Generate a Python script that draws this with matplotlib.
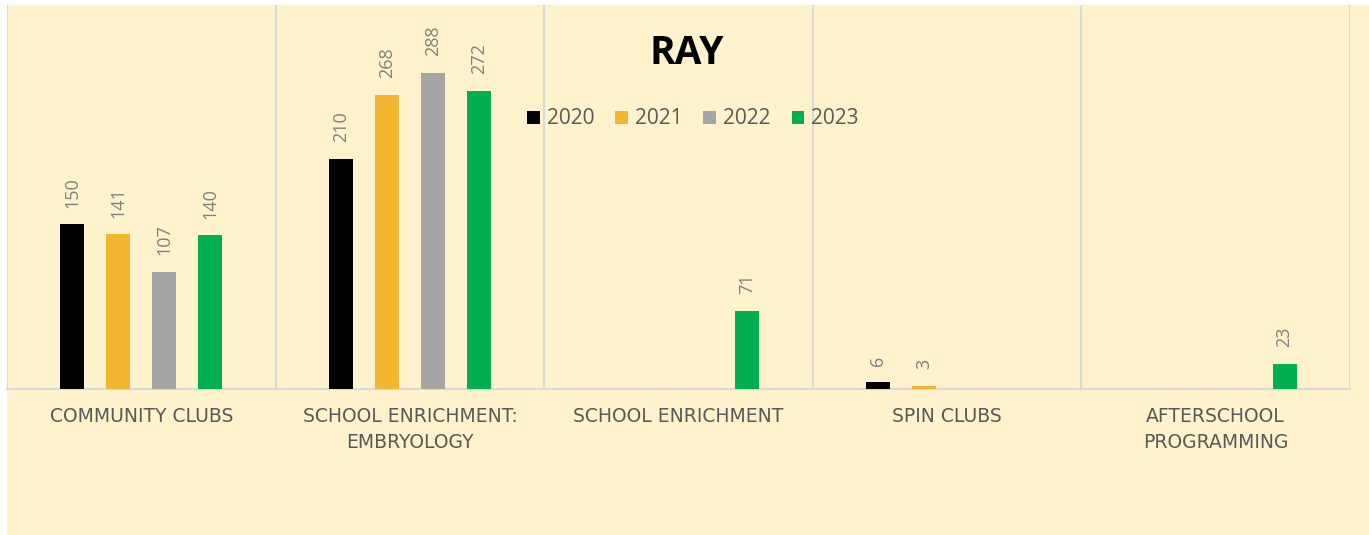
#!/usr/bin/env python

import numpy as np
import matplotlib.pyplot as plt
from matplotlib.patches import Rectangle, Patch

plt.rcParams['font.family'] = ['Open Sans', 'DejaVu Sans']

categories = ['COMMUNITY CLUBS', 'SCHOOL ENRICHMENT:\nEMBRYOLOGY',
              'SCHOOL ENRICHMENT', 'SPIN CLUBS', 'AFTERSCHOOL\nPROGRAMMING']
years = ['2020', '2021', '2022', '2023']
v2020 = [150, 210, 0, 6, 0]
v2021 = [141, 268, 0, 3, 0]
v2022 = [107, 288, 0, 0, 0]
v2023 = [140, 272, 71, 0, 23]
colors = ['#000000', '#F2B630', '#A5A5A5', '#00B050']

series = [v2020, v2021, v2022, v2023]

fig = plt.figure(figsize=(13.69, 5.35), dpi=100)
fig.patch.set_facecolor('white')
fig.patches.append(Rectangle((7 / 1369, 0), 1 - 7 / 1369, 1 - 5 / 535,
                             transform=fig.transFigure, facecolor='#FFF2CC',
                             edgecolor='none', zorder=-10))

ax = fig.add_axes([7 / 1369, 1 - 389 / 535, 1343 / 1369, 384 / 535])
ax.set_facecolor('none')

x = np.arange(len(categories))
step = 0.171
width = 0.089
for i, vals in enumerate(series):
    pos = x + (i - 1.5) * step
    ax.bar(pos, vals, width, color=colors[i], zorder=3)
    for p, v in zip(pos, vals):
        if v > 0:
            ax.annotate(str(v), (p, v), xytext=(0, 12), textcoords='offset points',
                        rotation=90, ha='center', va='bottom', fontsize=13,
                        color='#808080')

ax.set_xlim(-0.5, len(categories) - 0.5)
ax.set_ylim(0, 350)
ax.set_yticks([])
ax.set_xticks(x)
ax.set_xticklabels(categories, fontsize=13.5, color='#595959', linespacing=1.45,
                   family='DejaVu Sans')
ax.tick_params(axis='x', length=0, pad=13)

for b in np.arange(-0.5, len(categories), 1.0):
    ax.axvline(b, color='#D9D9D9', lw=1.5, zorder=1)
for s in ['top', 'left', 'right']:
    ax.spines[s].set_visible(False)
ax.spines['bottom'].set_color('#D9D9D9')
ax.spines['bottom'].set_linewidth(1.5)

fig.text(687 / 1369, 1 - 53 / 535, 'RAY', ha='center', va='center',
         fontsize=28, fontweight='bold', color='black')

handles = [Patch(facecolor=c, edgecolor='none') for c in colors]
fig.legend(handles, years, loc='center', bbox_to_anchor=(693 / 1369, 1 - 119 / 535),
           ncol=4, frameon=False, fontsize=15, labelcolor='#595959',
           handlelength=0.6, handleheight=0.6, handletextpad=0.35,
           columnspacing=1.0)

fig.savefig('out.png', dpi=100, facecolor=fig.get_facecolor())
